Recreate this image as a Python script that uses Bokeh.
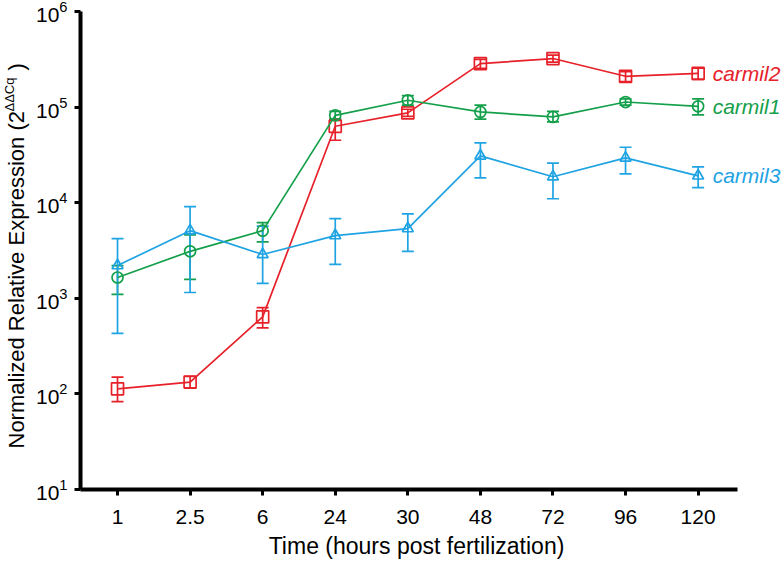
import math
from bokeh.plotting import figure
from bokeh.layouts import row
from bokeh.models import (Range1d, FixedTicker, Whisker, ColumnDataSource, TeeHead)
from bokeh.core.properties import value
from bokeh.embed import file_html
from bokeh.resources import INLINE

categories = ["1", "2.5", "6", "24", "30", "48", "72", "96", "120"]

carmil2 = [113, 133, 640, 63000, 87000, 285000, 322000, 210000, 225000]
carmil2_lo = [83, 115, 490, 45000, 80000, 255000, 295000, 185000, 195000]
carmil2_hi = [150, 152, 800, 75000, 95000, 315000, 350000, 235000, 255000]

carmil1 = [1650, 3100, 5100, 82000, 118000, 89000, 79000, 113000, 102000]
carmil1_lo = [1100, 1580, 3900, 75000, 105000, 75000, 70000, 105000, 83000]
carmil1_hi = [2200, 4600, 6200, 90000, 132000, 105000, 90000, 122000, 122000]

carmil3 = [2200, 5100, 2870, 4530, 5360, 30900, 18700, 29400, 19100]
carmil3_lo = [430, 1150, 1430, 2260, 3090, 18200, 11000, 20000, 14400]
carmil3_hi = [4200, 9100, 5700, 6800, 7650, 42200, 26000, 38000, 23700]

y_ticks = [1e1, 1e2, 1e3, 1e4, 1e5, 1e6]

series_names = ["carmil2", "carmil1", "carmil3"]
colors = ["#E62129", "#14A04B", "#1FA3E3"]
markers = ["square", "circle", "triangle"]

x_title = "Time (hours post fertilization)"
y_title = "Normalized Relative Expression (2"
y_title_sup = "ΔΔCq"
y_title_end = ")"

FONT = "Liberation Sans"
H = 563
TOP, BOTTOM = 11, 74
TW = 30          # width of the strip that holds the y-axis title
W = 784 - TW

# --- strip with the y axis title; its frame is aligned with the main frame,
#     so its y range is expressed in page pixels counted from the bottom ---
pt = figure(width=TW, height=H, output_backend="svg", toolbar_location=None,
            title=None, x_range=Range1d(0, TW), y_range=Range1d(BOTTOM, H - TOP),
            min_border=0, min_border_top=TOP, min_border_bottom=BOTTOM,
            x_axis_location=None, y_axis_location=None)
pt.outline_line_color = None
pt.grid.grid_line_color = None
pt.text(x=[16], y=[H - 448], text=[y_title], angle=math.pi / 2,
        text_align="left", text_baseline="alphabetic",
        text_font=value(FONT), text_font_size="22px", text_color="black")
pt.text(x=[9], y=[H - 111], text=[y_title_sup], angle=math.pi / 2,
        text_align="left", text_baseline="alphabetic",
        text_font=value(FONT), text_font_size="13px", text_color="black")
pt.text(x=[16], y=[H - 70], text=[y_title_end], angle=math.pi / 2,
        text_align="left", text_baseline="alphabetic",
        text_font=value(FONT), text_font_size="22px", text_color="black")

# --- main chart ---
p = figure(width=W, height=H, y_axis_type="log", output_backend="svg",
           toolbar_location=None, x_range=Range1d(-0.51, 9.19),
           y_range=Range1d(y_ticks[0], y_ticks[-1]),
           min_border_left=80 - TW, min_border_right=0,
           min_border_top=TOP, min_border_bottom=BOTTOM)
p.outline_line_color = None
p.grid.grid_line_color = None

xs = list(range(len(categories)))
data = [(carmil2, carmil2_lo, carmil2_hi), (carmil1, carmil1_lo, carmil1_hi),
        (carmil3, carmil3_lo, carmil3_hi)]

for name, (vals, lo, hi), col, mk in zip(series_names, data, colors, markers):
    src = ColumnDataSource(dict(x=xs, y=vals, lo=lo, hi=hi))
    w = Whisker(source=src, base="x", upper="hi", lower="lo", line_color=col,
                line_width=1.7,
                upper_head=TeeHead(size=12, line_color=col, line_width=1.7),
                lower_head=TeeHead(size=12, line_color=col, line_width=1.7))
    p.add_layout(w)
    p.line("x", "y", source=src, line_color=col, line_width=1.7)
    p.scatter("x", "y", source=src, marker=mk, size=12 if mk == "square" else 11,
              fill_color=None, line_color=col, line_width=1.7)
    p.text(x=[len(categories) - 1 + 0.2], y=[vals[-1]], text=[name],
           text_color=col, text_font=value(FONT),
           text_font_style="italic", text_font_size="21px",
           text_baseline="middle", text_align="left")

p.xaxis.ticker = FixedTicker(ticks=xs)
p.xaxis.major_label_overrides = {i: c for i, c in enumerate(categories)}
p.xaxis.bounds = (-0.51, 8.54)
p.yaxis.ticker = FixedTicker(ticks=y_ticks)
for ax in (p.xaxis, p.yaxis):
    ax.axis_line_width = 4
    ax.major_tick_line_width = 3
    ax.major_tick_out = 6
    ax.major_tick_in = 0
    ax.minor_tick_line_color = None
    ax.major_label_text_font = FONT
    ax.major_label_text_font_size = "21px"
    ax.major_label_text_color = "black"
    ax.axis_label_text_font = FONT
    ax.axis_label_text_font_size = "23px"
    ax.axis_label_text_font_style = "normal"
    ax.axis_label_text_color = "black"
p.xaxis.major_label_standoff = 14
# trailing no-break spaces centre the title over the drawn axis, not the wider frame
p.xaxis.axis_label = x_title + "\u00a0" * 5
p.xaxis.axis_label_standoff = 6
p.yaxis.major_label_standoff = 7

layout = row(pt, p)
open("out.html", "w").write(file_html(layout, INLINE))
